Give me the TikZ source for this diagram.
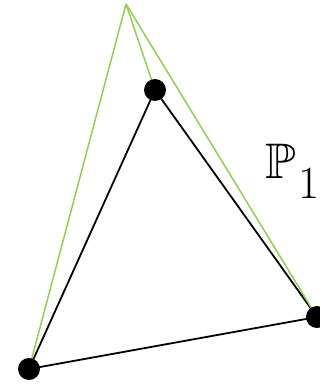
\documentclass[tikz,border=0pt]{standalone}
\usepackage{amsmath}
\usepackage{amssymb}
\usetikzlibrary{positioning}
\definecolor{lightgreen}{RGB}{146,208,80}
\begin{document}
\begin{tikzpicture}[x=1pt,y=-1pt]
        \useasboundingbox (0,0) rectangle (320,385);
        \coordinate (o) at (126,4);
        \coordinate (a) at (155,90);
        \coordinate (b) at (317,317);
        \coordinate (c) at (29,369);
        \draw[line width=1.8pt] (a)--(b)--(c)--cycle;
        \draw[lightgreen,line width=1.5pt] (o)--(a);
        \draw[lightgreen,line width=1.5pt] (o)--(b);
        \draw[lightgreen,line width=1.5pt] (o)--(c);
        \fill (a) circle (11);
        \fill (b) circle (11);
        \fill (c) circle (11);
        \node[anchor=base west,inner sep=0pt] (lbl) at (265,178) {\fontsize{50}{60}\selectfont\(\mathbb{P}\)\kern3pt\raisebox{-20pt}{\fontsize{46}{46}\selectfont 1}};
    \end{tikzpicture}
\end{document}
